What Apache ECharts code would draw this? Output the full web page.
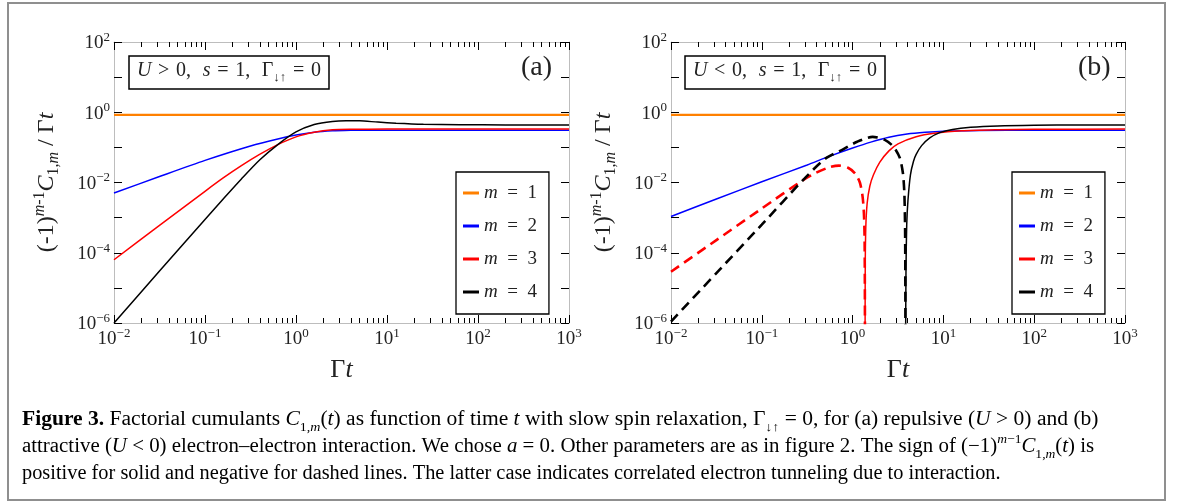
<!DOCTYPE html>
<html>
<head>
<meta charset="utf-8">
<script src="https://cdn.jsdelivr.net/npm/echarts@6.0.0/dist/echarts.min.js"></script>
<style>
  html, body { margin: 0; padding: 0; background: #fff; }
  #main { width: 1182px; height: 502px; }
</style>
</head>
<body>
<div id="main"></div>
<script>
var SERIF = '"Liberation Serif", "DejaVu Serif", serif';

// axes are log10(Γt) and log10((-1)^(m-1) C_1,m / Γt)
var xDecades = [-2, -1, 0, 1, 2, 3];
var yDecades = [-6, -5, -4, -3, -2, -1, 0, 1, 2];
var minorSteps = [2, 3, 4, 5, 6, 7, 8, 9];
var legendNames = ["m = 1", "m = 2", "m = 3", "m = 4"];
var lineColors = ["#ff8000", "#0000ff", "#ff0000", "#000000"];

// panel (a), U > 0 : [log10 Γt, log10 value]
var a_m1 = [[-2, -0.075], [3, -0.075]];
var a_m2 = [[-2, -2.30], [-1.5, -1.83], [-1, -1.37], [-0.5, -0.96], [-0.2, -0.76], [0, -0.65],
            [0.2, -0.57], [0.4, -0.53], [0.6, -0.515], [0.8, -0.51], [1.2, -0.51], [3, -0.51]];
var a_m3 = [[-2, -4.20], [-1.5, -3.22], [-1, -2.25], [-0.8, -1.87], [-0.6, -1.52], [-0.4, -1.20],
            [-0.2, -0.92], [0, -0.70], [0.2, -0.57], [0.4, -0.50], [0.6, -0.485], [1, -0.48], [3, -0.48]];
var a_m4 = [[-2, -6.0], [-1.5, -4.52], [-1, -3.05], [-0.8, -2.47], [-0.6, -1.90], [-0.4, -1.36],
            [-0.2, -0.92], [0, -0.56], [0.2, -0.35], [0.4, -0.26], [0.55, -0.24], [0.7, -0.245],
            [0.9, -0.28], [1.1, -0.31], [1.4, -0.34], [1.8, -0.355], [2.3, -0.36], [3, -0.36]];

// panel (b), U < 0 ; dashed = negative sign, solid = positive
var b_m1 = [[-2, -0.075], [3, -0.075]];
var b_m2 = [[-2, -2.97], [-1.5, -2.47], [-1, -1.98], [-0.5, -1.50], [-0.25, -1.25], [0, -1.02],
            [0.2, -0.85], [0.4, -0.71], [0.6, -0.62], [0.8, -0.57], [1, -0.54], [1.4, -0.52],
            [2, -0.51], [3, -0.51]];
var b_m3_neg = [[-2, -4.54], [-1.5, -3.64], [-1, -2.74], [-0.546, -1.93], [-0.4, -1.72], [-0.25, -1.56],
                [-0.15, -1.52], [-0.05, -1.58], [0.03, -1.75], [0.08, -2.0], [0.11, -2.4],
                [0.125, -2.9], [0.132, -3.6], [0.135, -5], [0.1365, -7]];
var b_m3_pos = [[0.1375, -7], [0.139, -4.5], [0.145, -3.3], [0.16, -2.6], [0.19, -2.1], [0.23, -1.78],
                [0.3, -1.42], [0.4, -1.1], [0.5, -0.9], [0.7, -0.7], [0.9, -0.6], [1.2, -0.53],
                [1.6, -0.5], [2, -0.485], [3, -0.48]];
var b_m4_neg = [[-2, -5.96], [-1.5, -4.58], [-1, -3.20], [-0.546, -1.93], [-0.3, -1.32], [-0.1, -1.05],
                [0.05, -0.84], [0.22, -0.70], [0.35, -0.78], [0.45, -0.98], [0.52, -1.3],
                [0.555, -1.75], [0.57, -2.3], [0.578, -3.3], [0.581, -5], [0.582, -7]];
var b_m4_pos = [[0.583, -7], [0.588, -4.5], [0.596, -3.2], [0.61, -2.5], [0.637, -1.78], [0.67, -1.4],
                [0.7, -1.2], [0.76, -0.95], [0.85, -0.73], [0.96, -0.58], [1.1, -0.49], [1.3, -0.43],
                [1.6, -0.39], [2, -0.37], [2.5, -0.36], [3, -0.36]];

// minor tick positions 2..9 inside each decade
var minorTicks = [];
xDecades.slice(0, -1).forEach(function (d) {
  minorSteps.forEach(function (k) { minorTicks.push(d + Math.log10(k)); });
});

var chart = echarts.init(document.getElementById("main"), null, { renderer: "canvas" });

var powRich = {
  b: { fontFamily: SERIF, fontSize: 19, color: "#222", lineHeight: 22, verticalAlign: "bottom" },
  s: { fontFamily: SERIF, fontSize: 13, color: "#222", lineHeight: 13, verticalAlign: "top" }
};
function powLabel(evenOnly) {
  return function (v) {
    var e = Math.round(v);
    if (evenOnly && e % 2 !== 0) return "";
    return "{b|10}{s|" + (e < 0 ? "\u2212" + (-e) : e) + "}";
  };
}

function xAxes(g) {
  var common = { type: "value", gridIndex: g, min: -2, max: 3, interval: 1, splitLine: { show: false } };
  var tickStyle = { color: "#000", width: 1 };
  return [
    Object.assign({}, common, {
      position: "bottom",
      axisLine: { onZero: false, lineStyle: { color: "#bdbdbd", width: 1 } },
      axisTick: { inside: true, length: 8, lineStyle: tickStyle },
      axisLabel: { margin: 4, formatter: powLabel(false), rich: powRich },
      name: "{g|Γ}{i|t}",
      nameLocation: "middle",
      nameGap: 34,
      nameTextStyle: {
        rich: {
          g: { fontFamily: SERIF, fontSize: 26, color: "#222" },
          i: { fontFamily: SERIF, fontSize: 26, color: "#222", fontStyle: "italic" }
        }
      }
    }),
    Object.assign({}, common, {
      position: "bottom",
      axisLine: { show: false, onZero: false },
      axisTick: { inside: true, length: 5, customValues: minorTicks, lineStyle: tickStyle },
      axisLabel: { show: false }
    }),
    Object.assign({}, common, {
      position: "top",
      axisLine: { onZero: false, lineStyle: { color: "#bdbdbd", width: 1 } },
      axisTick: { inside: true, length: 8, lineStyle: tickStyle },
      axisLabel: { show: false }
    }),
    Object.assign({}, common, {
      position: "top",
      axisLine: { show: false, onZero: false },
      axisTick: { inside: true, length: 5, customValues: minorTicks, lineStyle: tickStyle },
      axisLabel: { show: false }
    })
  ];
}

function yAxes(g) {
  var common = { type: "value", gridIndex: g, min: -6, max: 2, interval: 1, splitLine: { show: false } };
  var tickStyle = { color: "#000", width: 1 };
  var n = 24;
  return [
    Object.assign({}, common, {
      position: "left",
      axisLine: { onZero: false, lineStyle: { color: "#bdbdbd", width: 1 } },
      axisTick: { inside: true, length: 8, lineStyle: tickStyle },
      axisLabel: { margin: 4, formatter: powLabel(true), rich: powRich, showMinLabel: true, showMaxLabel: true },
      name: "{n|(-1)}{si|m}{s|-1}{i|C}{d|1,}{di|m}{n| / Γ}{i|t}",
      nameLocation: "middle",
      nameRotate: 90,
      nameGap: 52,
      nameTextStyle: {
        rich: {
          n: { fontFamily: SERIF, fontSize: n, color: "#222", lineHeight: 30, verticalAlign: "middle" },
          i: { fontFamily: SERIF, fontSize: n, color: "#222", fontStyle: "italic", lineHeight: 30, verticalAlign: "middle" },
          s: { fontFamily: SERIF, fontSize: 16, color: "#222", lineHeight: 16, verticalAlign: "top" },
          si: { fontFamily: SERIF, fontSize: 16, color: "#222", fontStyle: "italic", lineHeight: 16, verticalAlign: "top" },
          d: { fontFamily: SERIF, fontSize: 16, color: "#222", lineHeight: 16, verticalAlign: "bottom" },
          di: { fontFamily: SERIF, fontSize: 16, color: "#222", fontStyle: "italic", lineHeight: 16, verticalAlign: "bottom" }
        }
      }
    }),
    Object.assign({}, common, {
      position: "right",
      axisLine: { onZero: false, lineStyle: { color: "#bdbdbd", width: 1 } },
      axisTick: { inside: true, length: 8, lineStyle: tickStyle },
      axisLabel: { show: false }
    })
  ];
}

function line(name, data, m, g, dashed) {
  var w = m === 1 ? 2.2 : (dashed ? 2.6 : 1.5);
  return {
    type: "line",
    name: name,
    xAxisIndex: g * 4,
    yAxisIndex: g * 2,
    data: data,
    symbol: "none",
    smooth: 0.25,
    clip: true,
    silent: true,
    lineStyle: { color: lineColors[m - 1], width: w, type: dashed ? [10, 6] : "solid" },
    itemStyle: { color: lineColors[m - 1] }
  };
}

function legendFor(left) {
  return {
    data: legendNames,
    orient: "vertical",
    left: left,
    top: 172,
    padding: [11, 12, 12, 7],
    itemGap: 13,
    itemWidth: 16,
    itemHeight: 3,
    icon: "rect",
    selectedMode: false,
    borderColor: "#000",
    borderWidth: 1.3,
    backgroundColor: "#fff",
    textStyle: {
      fontFamily: SERIF, fontSize: 19, color: "#222", lineHeight: 20,
      rich: {
        i: { fontFamily: SERIF, fontSize: 19, color: "#222", fontStyle: "italic", lineHeight: 20 },
        r: { fontFamily: SERIF, fontSize: 19, color: "#222", lineHeight: 20 }
      }
    },
    formatter: function (name) {
      return "{i|m}{r|\u2002=\u2002" + name.slice(-1) + "}";
    }
  };
}

var boxText = {
  fontFamily: SERIF, fontSize: 20, color: "#222", fontWeight: "normal",
  rich: {
    r: { fontFamily: SERIF, fontSize: 20, color: "#222" },
    i: { fontFamily: SERIF, fontSize: 20, color: "#222", fontStyle: "italic" },
    sub: { fontFamily: SERIF, fontSize: 13, color: "#222", verticalAlign: "bottom", lineHeight: 27 }
  }
};
var sp = "\u2004";

var capFont = 20;
var capRich = {
  r: { fontFamily: SERIF, fontSize: capFont, color: "#222" },
  b: { fontFamily: SERIF, fontSize: capFont, color: "#222", fontWeight: "bold" },
  i: { fontFamily: SERIF, fontSize: capFont, color: "#222", fontStyle: "italic" },
  sub: { fontFamily: SERIF, fontSize: 13, color: "#222", verticalAlign: "bottom", lineHeight: 28 },
  subi: { fontFamily: SERIF, fontSize: 13, color: "#222", fontStyle: "italic", verticalAlign: "bottom", lineHeight: 28 },
  sup: { fontFamily: SERIF, fontSize: 13, color: "#222", verticalAlign: "top", lineHeight: 13 },
  supi: { fontFamily: SERIF, fontSize: 13, color: "#222", fontStyle: "italic", verticalAlign: "top", lineHeight: 13 },
  link: { fontFamily: SERIF, fontSize: capFont, color: "#2a7ab8" }
};
var captionLines = [
  "{b|Figure 3.}{r| Factorial cumulants }{i|C}{sub|1,}{subi|m}{r|(}{i|t}{r|) as function of time }{i|t}{r| with slow spin relaxation, Γ}{sub|↓↑}{r| = 0, for (a) repulsive (}{i|U}{r| > 0) and (b)}",
  "{r|attractive (}{i|U}{r| < 0) electron–electron interaction. We chose }{i|a}{r| = 0. Other parameters are as in figure }{link|2}{r|. The sign of (−1)}{supi|m}{sup|−1}{i|C}{sub|1,}{subi|m}{r|(}{i|t}{r|) is}",
  "{r|positive for solid and negative for dashed lines. The latter case indicates correlated electron tunneling due to interaction.}"
];
var captionY = [420, 447, 474];
var captionScale = [1.077, 1.044, 1.018];

var graphics = [{
  type: "rect", silent: true,
  shape: { x: 8, y: 3, width: 1157, height: 497 },
  style: { fill: null, stroke: "#8f8f8f", lineWidth: 2 }
}];
captionLines.forEach(function (t, i) {
  graphics.push({
    type: "text", silent: true, x: 22, y: captionY[i], scaleX: captionScale[i],
    style: { text: t, rich: capRich, verticalAlign: "middle", align: "left" }
  });
});

function boxLabel(rel) {
  return "{i|U}{r|" + sp + rel + sp + "0," + sp + " }{i|s}{r|" + sp + "=" + sp + "1," + sp + " Γ}{sub|↓↑}{r|" + sp + "=" + sp + "0}";
}

var option = {
  animation: false,
  backgroundColor: "#fff",
  grid: [
    { left: 114, top: 42, width: 455, height: 281 },
    { left: 671, top: 42, width: 454, height: 281 }
  ],
  xAxis: xAxes(0).concat(xAxes(1)),
  yAxis: yAxes(0).concat(yAxes(1)),
  title: [
    { text: boxLabel(">"), left: 129, top: 52,
      padding: [5, 8, 5, 8], borderColor: "#000", borderWidth: 1.5, textStyle: boxText },
    { text: "(a)", left: 521, top: 54, padding: 0,
      textStyle: { fontFamily: SERIF, fontSize: 28, fontWeight: "normal", color: "#222" } },
    { text: boxLabel("<"), left: 685, top: 52,
      padding: [5, 8, 5, 8], borderColor: "#000", borderWidth: 1.5, textStyle: boxText },
    { text: "(b)", left: 1078, top: 54, padding: 0,
      textStyle: { fontFamily: SERIF, fontSize: 28, fontWeight: "normal", color: "#222" } }
  ],
  legend: [legendFor(456), legendFor(1012)],
  graphic: graphics,
  series: [
    line("m = 1", a_m1, 1, 0, false),
    line("m = 2", a_m2, 2, 0, false),
    line("m = 3", a_m3, 3, 0, false),
    line("m = 4", a_m4, 4, 0, false),
    line("m = 1", b_m1, 1, 1, false),
    line("m = 2", b_m2, 2, 1, false),
    line("m = 3", b_m3_neg, 3, 1, true),
    line("m = 3", b_m3_pos, 3, 1, false),
    line("m = 4", b_m4_neg, 4, 1, true),
    line("m = 4", b_m4_pos, 4, 1, false)
  ]
};

chart.setOption(option);
</script>
</body>
</html>
